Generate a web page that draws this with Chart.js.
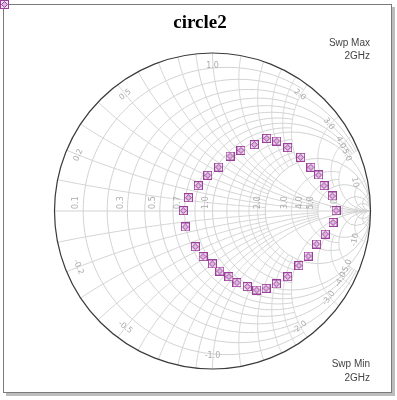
<!DOCTYPE html>
<html>
<head>
<meta charset="utf-8">
<script src="https://cdn.jsdelivr.net/npm/chart.js@4/dist/chart.umd.min.js"></script>
<style>
  html, body { margin: 0; padding: 0; background: #fff; }
  canvas { display: block; }
</style>
</head>
<body>
<canvas id="smith" width="397" height="400"></canvas>
<script>
const gammaRe = [0.343, 0.406, 0.476, 0.558, 0.623, 0.672, 0.706, 0.758, 0.782, 0.763,
                 0.714, 0.659, 0.606, 0.547, 0.476, 0.404, 0.339, 0.280, 0.220, 0.155,
                 0.104, 0.046, -0.001, -0.060, -0.109, -0.172, -0.185, -0.153, -0.090, -0.030,
                 0.039, 0.111, 0.180, 0.265];
const gammaIm = [0.460, 0.443, 0.401, 0.340, 0.277, 0.228, 0.160, 0.095, 0.002, -0.072,
                 -0.146, -0.209, -0.285, -0.346, -0.416, -0.462, -0.489, -0.500, -0.479, -0.454,
                 -0.416, -0.380, -0.335, -0.289, -0.226, -0.101, 0.002, 0.084, 0.160, 0.226,
                 0.278, 0.348, 0.384, 0.420];

// smith grid: constant resistance circles and reactance arcs
const resValues = [0.1, 0.2, 0.3, 0.4, 0.5, 0.6, 0.7, 0.8, 0.9, 1.0, 1.2, 1.4, 1.6, 1.8, 2.0, 3.0, 4.0, 5.0, 10, 20];
const resLimit  = [2, 5, 2, 5, 2, 5, 2, 5, 2, Infinity, 2, 2, 2, 2, Infinity, 5, 5, Infinity, Infinity, Infinity];
const reactValues = [0.1, 0.2, 0.3, 0.4, 0.5, 0.6, 0.7, 0.8, 0.9, 1.0, 1.2, 1.4, 1.6, 1.8, 2.0, 3.0, 4.0, 5.0, 10, 20];
const reactLimit  = [2, 5, 2, 5, 2, 5, 2, 5, 2, Infinity, 2, 2, 2, 2, Infinity, 5, 5, Infinity, Infinity, Infinity];
const resLabels = ['0.1', '0.3', '0.5', '0.7', '1.0', '2.0', '3.0', '4.0', '5.0', '10'];
const reactLabels = ['0.2', '0.5', '1.0', '2.0', '3.0', '4.0', '5.0', '10'];

const titleText = 'circle2';
const sweepMax = ['Swp Max', '2GHz'];
const sweepMin = ['Swp Min', '2GHz'];

const markColor = '#9a3f9a';

// little square-with-diamond marker
function makeMarker(size) {
    const c = document.createElement('canvas');
    c.width = size; c.height = size;
    const g = c.getContext('2d');
    g.fillStyle = '#f3e4f3';
    g.fillRect(0, 0, size, size);
    g.strokeStyle = markColor;
    g.lineWidth = 1;
    g.strokeRect(0.5, 0.5, size - 1, size - 1);
    const m = size / 2;
    g.beginPath();
    g.moveTo(m, 1.5); g.lineTo(size - 1.5, m); g.lineTo(m, size - 1.5); g.lineTo(1.5, m); g.closePath();
    g.fillStyle = '#dcb8dc';
    g.fill();
    g.stroke();
    return c;
}
const marker = makeMarker(9);

const points = gammaRe.map((re, i) => ({ x: re, y: gammaIm[i] }));

// normalized impedance -> gamma
function zToGamma(r, x) {
    const d = (r + 1) * (r + 1) + x * x;
    return [(r * r + x * x - 1) / d, 2 * x / d];
}

const smithGrid = {
    id: 'smithGrid',
    beforeDatasetsDraw(chart) {
        const ctx = chart.ctx;
        const xs = chart.scales.x, ys = chart.scales.y;
        const cx = xs.getPixelForValue(0), cy = ys.getPixelForValue(0);
        const R = xs.getPixelForValue(1) - cx;
        const px = v => xs.getPixelForValue(v);
        const py = v => ys.getPixelForValue(v);

        function curve(fn, a, b) {
            ctx.beginPath();
            const n = 160;
            for (let i = 0; i <= n; i++) {
                const p = fn(a + (b - a) * i / n);
                if (i === 0) ctx.moveTo(px(p[0]), py(p[1]));
                else ctx.lineTo(px(p[0]), py(p[1]));
            }
            ctx.stroke();
        }

        ctx.save();
        ctx.beginPath();
        ctx.arc(cx, cy, R, 0, Math.PI * 2);
        ctx.clip();
        ctx.strokeStyle = '#d2d2d2';
        ctx.lineWidth = 1;

        resValues.forEach((r, i) => {
            const lim = resLimit[i];
            if (lim === Infinity) {
                ctx.beginPath();
                ctx.arc(px(r / (1 + r)), cy, R / (1 + r), 0, Math.PI * 2);
                ctx.stroke();
            } else {
                const t = Math.atan(lim);
                curve(f => zToGamma(r, Math.tan(f)), -t, t);
            }
        });
        reactValues.forEach((x, i) => {
            const lim = reactLimit[i];
            const t = lim === Infinity ? Math.PI / 2 - 1e-4 : Math.atan(lim);
            [1, -1].forEach(s => curve(f => zToGamma(Math.tan(f), s * x), 0, t));
        });
        ctx.beginPath();
        ctx.moveTo(cx - R, cy); ctx.lineTo(cx + R, cy);
        ctx.stroke();
        ctx.restore();

        // labels
        ctx.save();
        ctx.fillStyle = '#ababab';
        ctx.font = '8px "DejaVu Sans", sans-serif';
        resLabels.forEach(t => {
            const r = parseFloat(t);
            const g = (r - 1) / (r + 1);
            ctx.save();
            ctx.translate(px(g) - 3, cy - 2);
            ctx.rotate(-Math.PI / 2);
            ctx.textAlign = 'left';
            ctx.textBaseline = 'bottom';
            ctx.fillText(t, 0, 0);
            ctx.restore();
        });
        reactLabels.forEach(t => {
            const x = parseFloat(t);
            [1, -1].forEach(s => {
                const g = zToGamma(0, s * x);
                const ang = Math.atan2(g[1], g[0]);
                const rr = 0.92;
                ctx.save();
                ctx.translate(px(rr * Math.cos(ang)), py(rr * Math.sin(ang)));
                ctx.rotate(-ang + Math.PI / 2 * s);
                ctx.textAlign = 'center';
                ctx.textBaseline = 'middle';
                ctx.fillText(s > 0 ? t : '-' + t, 0, 0);
                ctx.restore();
            });
        });
        ctx.restore();

        // outer circle
        ctx.save();
        ctx.strokeStyle = '#3a3a3a';
        ctx.lineWidth = 1.2;
        ctx.beginPath();
        ctx.arc(cx, cy, R, 0, Math.PI * 2);
        ctx.stroke();
        ctx.restore();
    },
    afterDraw(chart) {
        const ctx = chart.ctx;
        ctx.save();
        // frame with shadow
        ctx.fillStyle = '#bdbdbd';
        ctx.fillRect(392, 7, 3, 389);
        ctx.fillRect(6, 393, 389, 3);
        ctx.strokeStyle = '#7a7a7a';
        ctx.lineWidth = 1;
        ctx.strokeRect(3.5, 4.5, 388, 388);
        ctx.drawImage(marker, 0, 0);

        ctx.fillStyle = '#000';
        ctx.font = 'bold 19px "Liberation Serif", "Times New Roman", serif';
        ctx.textAlign = 'center';
        ctx.textBaseline = 'alphabetic';
        ctx.fillText(titleText, 200, 28);

        ctx.fillStyle = '#444';
        ctx.font = '10px "Liberation Sans", Arial, sans-serif';
        ctx.textAlign = 'right';
        ctx.textBaseline = 'middle';
        ctx.fillText(sweepMax[0], 370, 43);
        ctx.fillText(sweepMax[1], 370, 56);
        ctx.fillText(sweepMin[0], 370, 364);
        ctx.fillText(sweepMin[1], 370, 378);
        ctx.restore();
    }
};

new Chart(document.getElementById('smith'), {
    type: 'scatter',
    data: {
        datasets: [{
            label: titleText,
            data: points,
            pointStyle: marker,
            pointRadius: 4.5,
            showLine: false
        }]
    },
    options: {
        responsive: false,
        animation: false,
        layout: { padding: { left: 54.5, right: 26.5, top: 53, bottom: 31 } },
        scales: {
            x: { type: 'linear', min: -1, max: 1, display: false },
            y: { type: 'linear', min: -1, max: 1, display: false }
        },
        plugins: {
            legend: { display: false },
            tooltip: { enabled: false },
            title: { display: false }
        }
    },
    plugins: [smithGrid]
});
</script>
</body>
</html>
